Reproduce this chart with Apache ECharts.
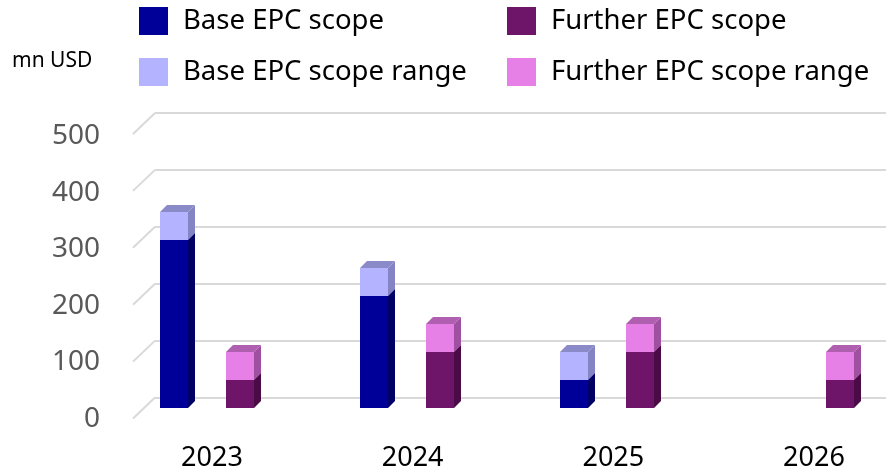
<!DOCTYPE html>
<html>
<head>
<meta charset="utf-8">
<script src="https://cdn.jsdelivr.net/npm/echarts@6/dist/echarts.min.js"></script>
<style>
html,body{margin:0;padding:0;background:#fff;}
#chart{width:886px;height:472px;}
</style>
</head>
<body>
<div id="chart"></div>
<script>
const years = ['2023', '2024', '2025', '2026'];
const baseScope = [300, 200, 50, 0];
const baseRange = [50, 50, 50, 0];
const furtherScope = [50, 100, 100, 50];
const furtherRange = [50, 50, 50, 50];
const yMin = 0, yMax = 500, yStep = 100;
const unitLabel = 'mn USD';

const FONT = '"Noto Sans", "Open Sans", sans-serif';
const BAR_W = 28, DX = 7, DY = -7;

function prism(offset, face, side, top) {
  return function (params, api) {
    const i = api.value(0), lo = api.value(1), hi = api.value(2);
    if (hi <= lo) return null;
    const pLo = api.coord([i, lo]);
    const pHi = api.coord([i, hi]);
    const x0 = pLo[0] + offset, x1 = x0 + BAR_W;
    const yb = pLo[1], yt = pHi[1];
    return {
      type: 'group',
      children: [
        { type: 'rect', shape: { x: x0, y: yt, width: BAR_W, height: yb - yt }, style: { fill: face } },
        { type: 'polygon', shape: { points: [[x1, yb], [x1 + DX, yb + DY], [x1 + DX, yt + DY], [x1, yt]] }, style: { fill: side } },
        { type: 'polygon', shape: { points: [[x0, yt], [x1, yt], [x1 + DX, yt + DY], [x0 + DX, yt + DY]] }, style: { fill: top } }
      ]
    };
  };
}

function seg(lower, upper) {
  return years.map((y, i) => [i, lower ? lower[i] : 0, (lower ? lower[i] : 0) + upper[i]]);
}

const ticks = [];
for (let v = yMin; v <= yMax; v += yStep) ticks.push(v);

const legendBase = {
  top: 7, orient: 'vertical', itemWidth: 29, itemHeight: 28, itemGap: 23, padding: 0,
  icon: 'rect', selectedMode: false,
  textStyle: { fontSize: 27.5, color: '#000', fontFamily: FONT, padding: [0, 0, 0, 10] }
};

const chart = echarts.init(document.getElementById('chart'));
chart.setOption({
  animation: false,
  textStyle: { fontFamily: FONT },
  legend: [
    Object.assign({}, legendBase, { left: 139, data: ['Base EPC scope', 'Base EPC scope range'] }),
    Object.assign({}, legendBase, { left: 507, data: ['Further EPC scope', 'Further EPC scope range'] })
  ],
  graphic: [
    { type: 'text', left: 12, top: 51, style: { text: unitLabel, fontSize: 21, fill: '#000', fontFamily: FONT } }
  ],
  grid: [
    // 0: back wall (gridlines)
    { left: 155, right: 0, top: 113, bottom: 74.5 },
    // 1: front plane (y labels)
    { left: 133, right: 0, top: 136, bottom: 53 },
    // 2: bar plane
    { left: 207, right: 79, top: 128, bottom: 64 },
    // 3: x labels
    { left: 212, right: 72, top: 136, bottom: 40 }
  ],
  xAxis: [
    { gridIndex: 0, type: 'value', min: 0, max: 1, show: false },
    { gridIndex: 1, type: 'value', min: 0, max: 1, show: false },
    { gridIndex: 2, type: 'category', data: years, boundaryGap: false, show: false },
    { gridIndex: 3, type: 'category', data: years, boundaryGap: false,
      axisLine: { show: false }, axisTick: { show: false },
      axisLabel: { fontSize: 27, color: '#000', margin: 14, fontFamily: FONT } }
  ],
  yAxis: [
    { gridIndex: 0, type: 'value', min: yMin, max: yMax, interval: yStep,
      axisLine: { show: false }, axisTick: { show: false }, axisLabel: { show: false },
      splitLine: { show: true, lineStyle: { color: '#d9d9d9', width: 2 } } },
    { gridIndex: 1, type: 'value', min: yMin, max: yMax, interval: yStep,
      axisLine: { show: false }, axisTick: { show: false }, splitLine: { show: false },
      axisLabel: { fontSize: 28, color: '#595959', margin: 33, fontFamily: FONT } },
    { gridIndex: 2, type: 'value', min: yMin, max: yMax, show: false, splitLine: { show: false } },
    { gridIndex: 3, type: 'value', min: 0, max: 1, show: false }
  ],
  series: [
    {
      type: 'custom', name: 'walls', xAxisIndex: 0, yAxisIndex: 0, silent: true,
      data: ticks.map(v => [0, v]),
      renderItem: function (params, api) {
        const p = api.coord([0, api.value(1)]);
        return { type: 'line', shape: { x1: p[0] - 22, y1: p[1] + 21, x2: p[0], y2: p[1] },
          style: { stroke: '#d9d9d9', lineWidth: 2 } };
      }
    },
    {
      type: 'custom', name: 'Base EPC scope', xAxisIndex: 2, yAxisIndex: 2, z: 3,
      itemStyle: { color: '#000099' },
      data: seg(null, baseScope),
      renderItem: prism(-47, '#000099', '#000066', '#00007a')
    },
    {
      type: 'custom', name: 'Base EPC scope range', xAxisIndex: 2, yAxisIndex: 2, z: 4,
      itemStyle: { color: '#b3b3ff' },
      data: seg(baseScope, baseRange),
      renderItem: prism(-47, '#b3b3ff', '#8484c4', '#8a8ac8')
    },
    {
      type: 'custom', name: 'Further EPC scope', xAxisIndex: 2, yAxisIndex: 2, z: 3,
      itemStyle: { color: '#6e1469' },
      data: seg(null, furtherScope),
      renderItem: prism(19, '#6e1469', '#4a0b46', '#5a1057')
    },
    {
      type: 'custom', name: 'Further EPC scope range', xAxisIndex: 2, yAxisIndex: 2, z: 4,
      itemStyle: { color: '#e680e6' },
      data: seg(furtherScope, furtherRange),
      renderItem: prism(19, '#e680e6', '#a050a0', '#b05fb0')
    }
  ]
});
</script>
</body>
</html>
